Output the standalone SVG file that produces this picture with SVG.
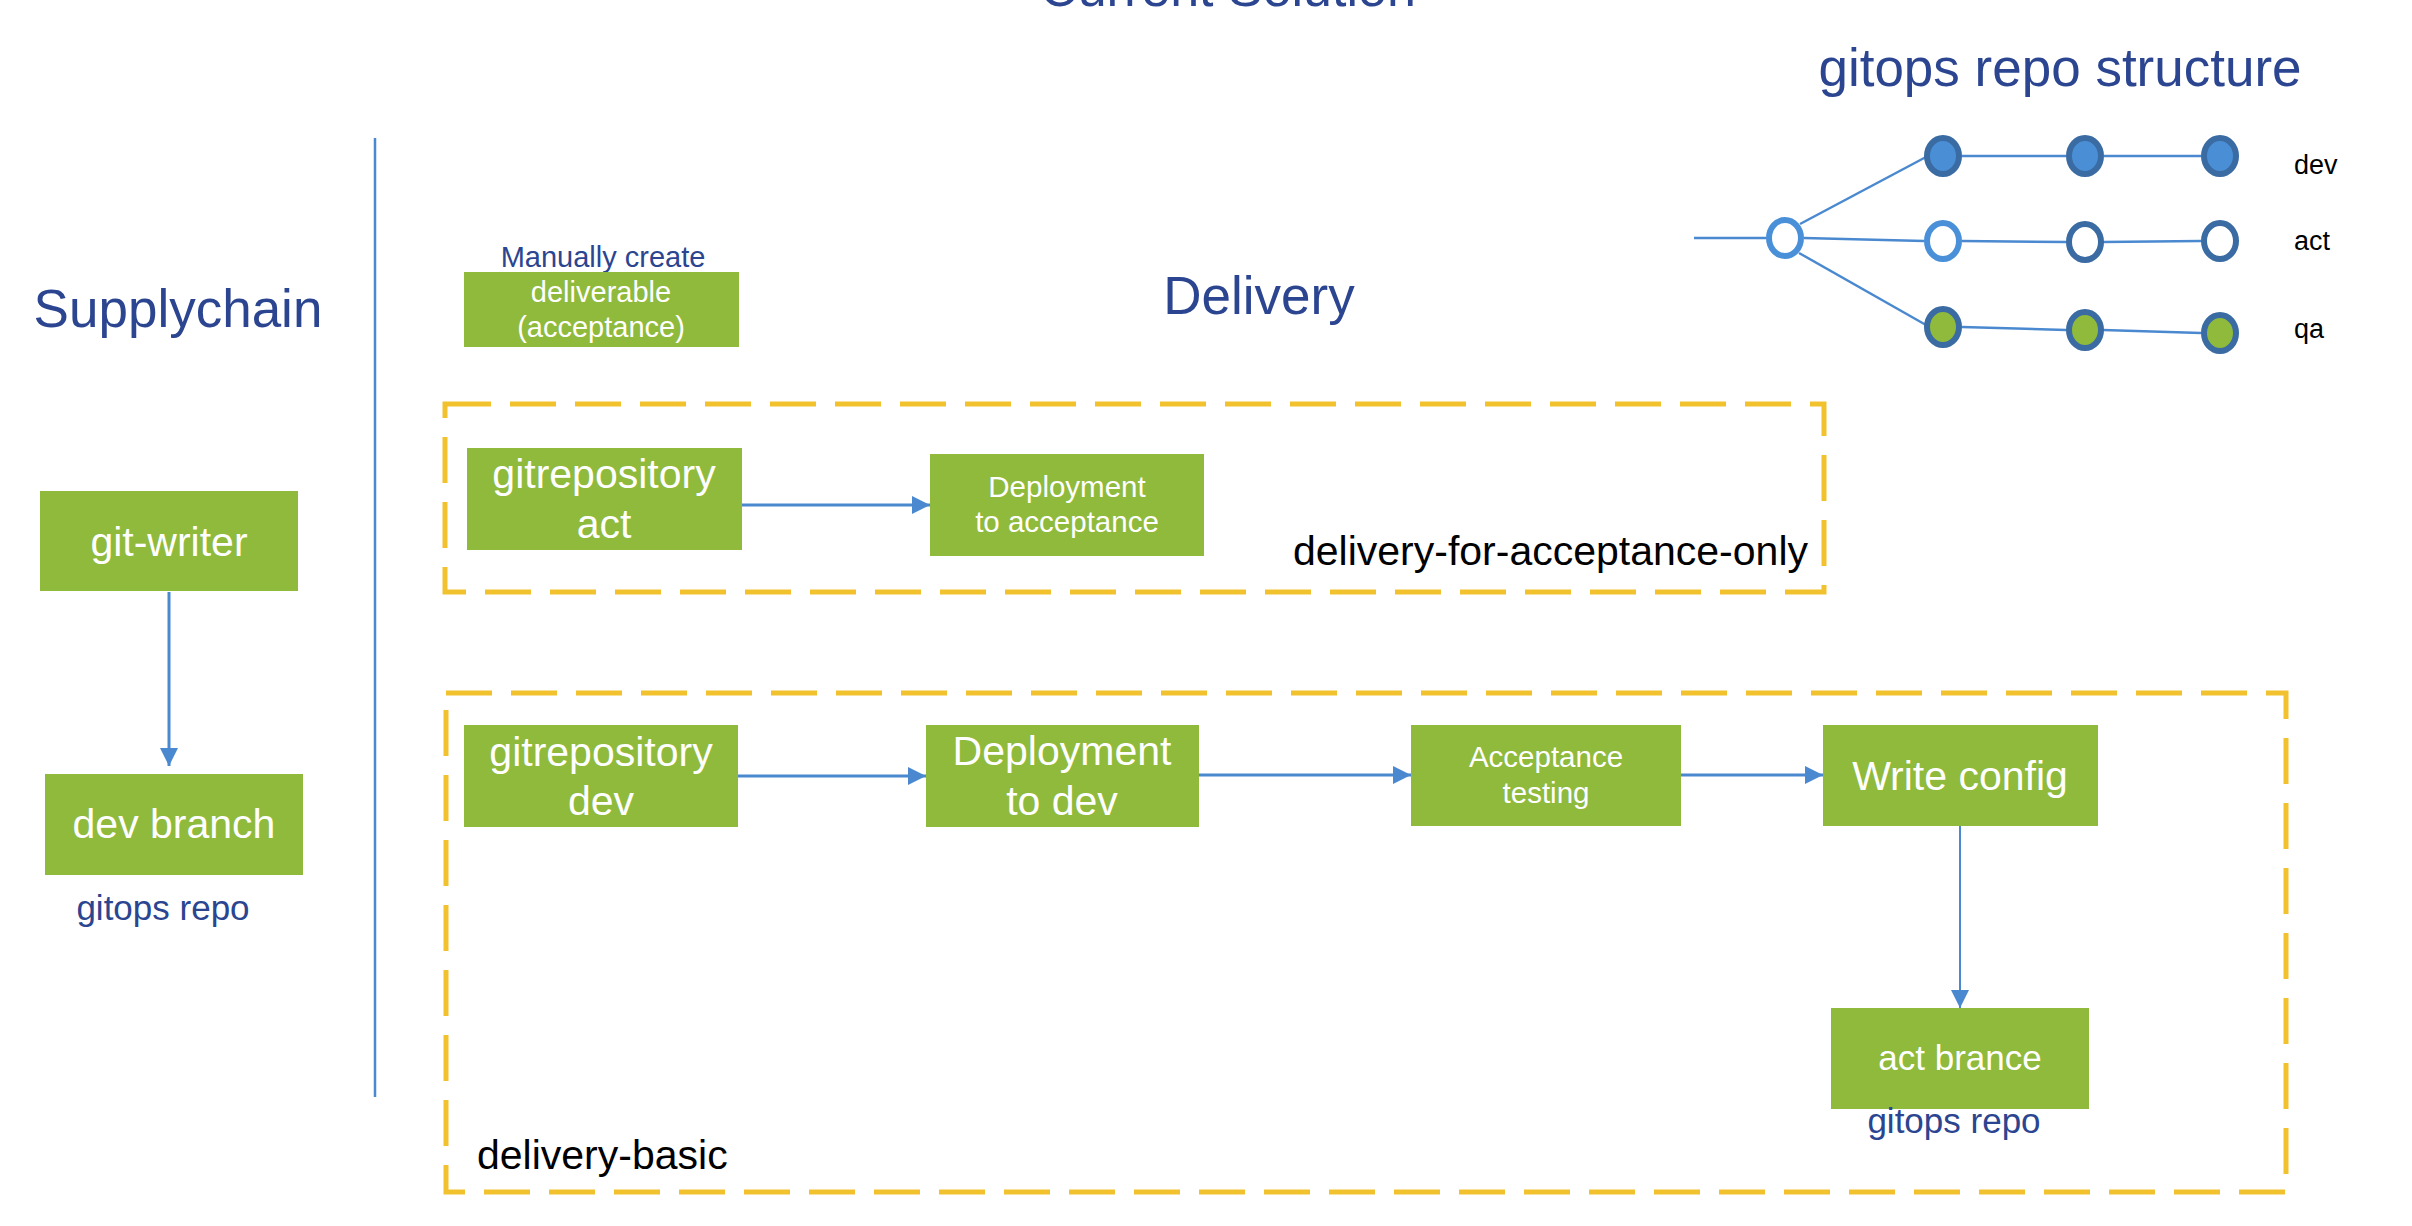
<svg xmlns="http://www.w3.org/2000/svg" width="2412" height="1226" viewBox="0 0 2412 1226">
<style>
text{font-family:"Liberation Sans",Arial,sans-serif}
.box{fill:#8fba3b}
.wt{fill:#ffffff;text-anchor:middle}
.blue{fill:#2b4590}
.dash{fill:none;stroke:#f2c12e;stroke-width:5;stroke-dasharray:46 19}
.conn{stroke:#4a89d0;stroke-width:3;fill:none}
.gl{stroke:#4a89d0;stroke-width:2.5;fill:none}
.c-dev{fill:#4a8fd6;stroke:#3a6ba3;stroke-width:6}
.c-act{fill:#ffffff;stroke:#3a6ba3;stroke-width:6}
.c-act1{fill:#ffffff;stroke:#4a90d9;stroke-width:6}
.c-qa{fill:#8fba3b;stroke:#3a6ba3;stroke-width:6}
.lbl{fill:#000000;font-size:27px}
</style>
<defs>
<marker id="ah" markerUnits="userSpaceOnUse" markerWidth="18" markerHeight="18" refX="18" refY="9" orient="auto"><path d="M0,0 L18,9 L0,18 z" fill="#4a89d0"/></marker>
</defs>
<rect width="2412" height="1226" fill="#ffffff"/>

<text x="1228" y="6" class="blue" font-size="52" text-anchor="middle">Current Solution</text>
<text x="2060" y="86" class="blue" font-size="53" text-anchor="middle">gitops repo structure</text>
<text x="178" y="327" class="blue" font-size="53" text-anchor="middle">Supplychain</text>
<text x="1259" y="314" class="blue" font-size="53" text-anchor="middle">Delivery</text>

<line x1="375" y1="138" x2="375" y2="1097" stroke="#4a89d0" stroke-width="2.5"/>

<g id="group-delivery-for-acceptance-only">
<rect class="dash" x="445" y="404" width="1379" height="188"/>
<text x="1808" y="565" font-size="41" text-anchor="end" fill="#000">delivery-for-acceptance-only</text>
</g>
<g id="group-delivery-basic">
<rect class="dash" x="446" y="693" width="1840" height="499"/>
<text x="477" y="1169" font-size="41" fill="#000">delivery-basic</text>
</g>

<g id="connectors">
<line class="conn" x1="169" y1="592" x2="169" y2="766" marker-end="url(#ah)"/>
<line class="conn" x1="742" y1="505" x2="930" y2="505" marker-end="url(#ah)"/>
<line class="conn" x1="738" y1="776" x2="926" y2="776" marker-end="url(#ah)"/>
<line class="conn" x1="1199" y1="775" x2="1411" y2="775" marker-end="url(#ah)"/>
<line class="conn" x1="1681" y1="775" x2="1823" y2="775" marker-end="url(#ah)"/>
<line class="conn" style="stroke-width:2" x1="1960" y1="826" x2="1960" y2="1008" marker-end="url(#ah)"/>
</g>

<g id="node-git-writer">
<rect class="box" x="40" y="491" width="258" height="100"/>
<text class="wt" x="169" y="556" font-size="41">git-writer</text>
</g>
<g id="node-dev-branch">
<rect class="box" x="45" y="774" width="258" height="101"/>
<text class="wt" x="174" y="838" font-size="41">dev branch</text>
<text class="blue" x="163" y="920" font-size="35" text-anchor="middle">gitops repo</text>
</g>
<g id="node-deliverable">
<text class="blue" x="603" y="267" font-size="29" text-anchor="middle">Manually create</text>
<rect class="box" x="464" y="272" width="275" height="75"/>
<text class="wt" x="601" y="302" font-size="29">deliverable</text>
<text class="wt" x="601" y="337" font-size="29">(acceptance)</text>
</g>
<g id="node-gitrepository-act">
<rect class="box" x="467" y="448" width="275" height="102"/>
<text class="wt" x="604" y="488" font-size="41">gitrepository</text>
<text class="wt" x="604" y="538" font-size="41">act</text>
</g>
<g id="node-deployment-acceptance">
<rect class="box" x="930" y="454" width="274" height="102"/>
<text class="wt" x="1067" y="497" font-size="29.5">Deployment</text>
<text class="wt" x="1067" y="532" font-size="29.5">to acceptance</text>
</g>
<g id="node-gitrepository-dev">
<rect class="box" x="464" y="725" width="274" height="102"/>
<text class="wt" x="601" y="766" font-size="41">gitrepository</text>
<text class="wt" x="601" y="815" font-size="41">dev</text>
</g>
<g id="node-deployment-dev">
<rect class="box" x="926" y="725" width="273" height="102"/>
<text class="wt" x="1062" y="765" font-size="41">Deployment</text>
<text class="wt" x="1062" y="815" font-size="41">to dev</text>
</g>
<g id="node-acceptance-testing">
<rect class="box" x="1411" y="725" width="270" height="101"/>
<text class="wt" x="1546" y="767" font-size="29.5">Acceptance</text>
<text class="wt" x="1546" y="803" font-size="29.5">testing</text>
</g>
<g id="node-write-config">
<rect class="box" x="1823" y="725" width="275" height="101"/>
<text class="wt" x="1960" y="790" font-size="41">Write config</text>
</g>
<g id="node-act-brance">
<rect class="box" x="1831" y="1008" width="258" height="101"/>
<text class="wt" x="1960" y="1070" font-size="35">act brance</text>
<text class="blue" x="1954" y="1133" font-size="35" text-anchor="middle">gitops repo</text>
</g>

<g id="gitops-structure">
<line class="gl" x1="1694" y1="238" x2="1766" y2="238"/>
<line class="gl" x1="1800" y1="224" x2="1926" y2="157"/>
<line class="gl" x1="1804" y1="238" x2="1924" y2="241"/>
<line class="gl" x1="1799" y1="253" x2="1926" y2="325"/>
<line class="gl" x1="1962" y1="156" x2="2066" y2="156"/>
<line class="gl" x1="2104" y1="156" x2="2201" y2="156"/>
<line class="gl" x1="1962" y1="241" x2="2066" y2="242"/>
<line class="gl" x1="2103" y1="242" x2="2201" y2="241"/>
<line class="gl" x1="1962" y1="327" x2="2066" y2="330"/>
<line class="gl" x1="2103" y1="330" x2="2201" y2="333"/>
<ellipse class="c-act1" cx="1785" cy="238" rx="16" ry="18"/>
<ellipse class="c-dev" cx="1943" cy="156" rx="16" ry="18"/>
<ellipse class="c-dev" cx="2085" cy="156" rx="16" ry="18"/>
<ellipse class="c-dev" cx="2220" cy="156" rx="16" ry="18"/>
<ellipse class="c-act1" cx="1943" cy="241" rx="16" ry="18"/>
<ellipse class="c-act" cx="2085" cy="242" rx="16" ry="18"/>
<ellipse class="c-act" cx="2220" cy="241" rx="16" ry="18"/>
<ellipse class="c-qa" cx="1943" cy="327" rx="16" ry="18"/>
<ellipse class="c-qa" cx="2085" cy="330" rx="16" ry="18"/>
<ellipse class="c-qa" cx="2220" cy="333" rx="16" ry="18"/>
<text class="lbl" x="2294" y="174">dev</text>
<text class="lbl" x="2294" y="250">act</text>
<text class="lbl" x="2294" y="338">qa</text>
</g>
</svg>
